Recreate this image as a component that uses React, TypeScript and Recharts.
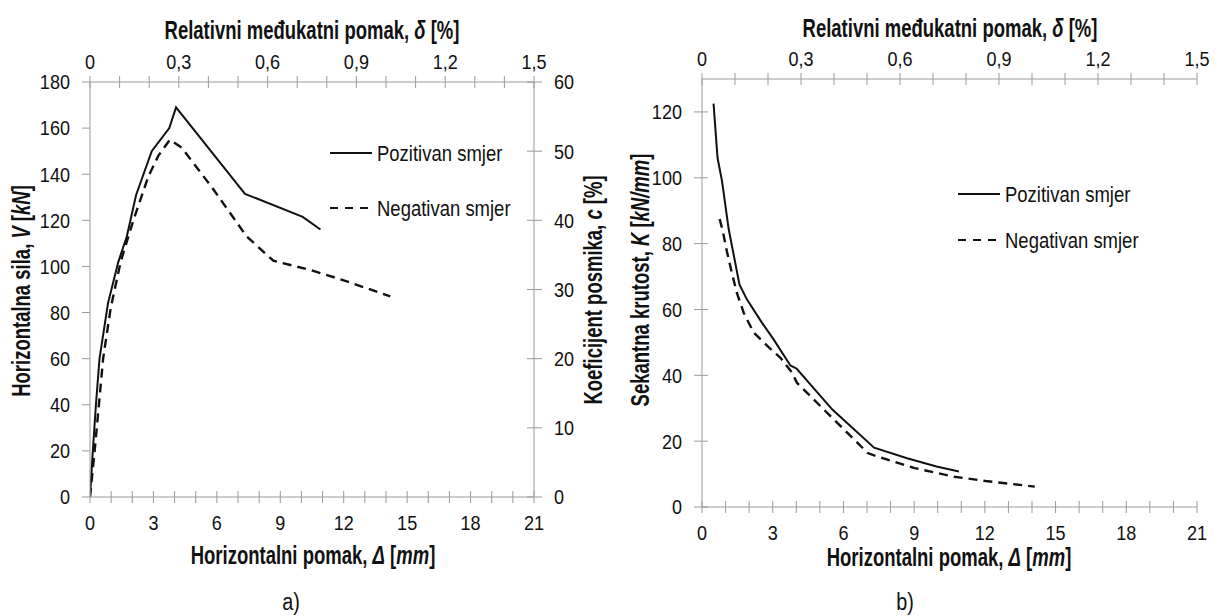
import { Legend, Line, LineChart, XAxis, YAxis } from 'recharts'

const FONT = "'Liberation Sans Narrow', 'Arial Narrow', 'Liberation Sans', Arial, sans-serif"
const AXIS = '#9a9a9a'
const INK = '#111111'

// a) horizontalna sila V [kN] prema pomaku Δ [mm]
const posDispA = [0, 0.12, 0.28, 0.45, 0.85, 1.34, 1.74, 2.18, 2.92, 3.75, 4.07, 7.33, 10.06, 10.9]
const posForceA = [0, 18, 40, 60, 84, 102, 113, 131, 150, 160, 169, 131.5, 121.5, 116]
const negDispA = [0, 0.22, 0.42, 0.62, 0.98, 1.45, 2.05, 2.76, 3.23, 3.78, 4.34, 5.83, 7.41, 8.67, 10.4, 12.0, 14.2]
const negForceA = [0, 20, 40, 60, 82, 102, 120, 139, 148, 155, 151.5, 133.5, 113, 102.5, 98.5, 94, 87]

// b) sekantna krutost K [kN/mm] prema pomaku Δ [mm]
const posDispB = [0.49, 0.66, 0.85, 1.13, 1.59, 1.91, 2.54, 3.03, 3.75, 4.02, 5.53, 7.3, 8.7, 9.95, 10.9]
const posStiffB = [122.5, 106, 99, 84.5, 67.5, 63, 56, 51, 43, 42, 29.6, 18, 14.8, 12.3, 10.8]
const negDispB = [0.75, 0.89, 1.06, 1.27, 1.48, 1.77, 2.19, 2.76, 3.33, 3.82, 4.03, 5.03, 6.03, 7.03, 7.37, 9.03, 10.7, 12.03, 14.12]
const negStiffB = [87.5, 83.5, 77.5, 71, 65, 59, 53, 49, 45.3, 40.8, 37.7, 30.6, 23.5, 16.4, 15.5, 11.8, 9.2, 7.9, 6.2]

const seriesNames = ['Pozitivan smjer', 'Negativan smjer']

// 1,5 % relativnog pomaka = 21 mm (mm po %)
const MM_PER_PCT = 14

const dispTicks = [0, 1, 2, 3, 4, 5, 6, 7, 8, 9, 10, 11, 12, 13, 14, 15, 16, 17, 18, 19, 20, 21]
const driftTicks = [0, 0.1, 0.2, 0.3, 0.4, 0.5, 0.6, 0.7, 0.8, 0.9, 1.0, 1.1, 1.2, 1.3, 1.4, 1.5]
const forceTicks = [0, 20, 40, 60, 80, 100, 120, 140, 160, 180]
const coefTicks = [0, 10, 20, 30, 40, 50, 60]
const stiffTicks = [0, 20, 40, 60, 80, 100, 120]

const zip = (xs: number[], ys: number[]) => xs.map((d, i) => ({ d, v: ys[i] }))

// narrow, tall lettering like the original (font squeezed horizontally)
function T({ x, y, rot = 0, anchor = 'middle', bold = false, size = 21, sx = 0.86, children }: any) {
  return (
    <text transform={`translate(${x} ${y}) rotate(${rot}) scale(${sx} 1)`} x={0} y={0} dy="0.35em"
      textAnchor={anchor} fontFamily={FONT} fontSize={size} fill={INK} fontWeight={bold ? 'bold' : 'normal'}>
      {children}
    </text>
  )
}

function Title(props: any) {
  return <T bold size={25} sx={0.74} {...props} />
}

function BottomTick({ x, y, payload }: any) {
  const v = payload.value
  return (
    <g>
      <line x1={x} x2={x} y1={y - 6} y2={y + 6} stroke={AXIS} />
      {v % 3 === 0 && <T x={x} y={y + 26}>{v}</T>}
    </g>
  )
}

function TopTick({ x, y, payload }: any) {
  const p = payload.value / MM_PER_PCT
  const step = Math.round(p * 10)
  return (
    <g>
      <line x1={x} x2={x} y1={y - 6} y2={y + 6} stroke={AXIS} />
      {step % 3 === 0 && (
        <T x={x} y={y - 20}>{step === 0 ? '0' : p.toFixed(1).replace('.', ',')}</T>
      )}
    </g>
  )
}

const yTick = (side: 'left' | 'right', inner: number) => (props: any) => {
  const { x, y, payload } = props
  const s = side === 'left' ? -1 : 1
  return (
    <g>
      <line x1={x - s * inner} x2={x + s * 8} y1={y} y2={y} stroke={AXIS} />
      <T x={x + s * 20} y={y} anchor={side === 'left' ? 'end' : 'start'}>{payload.value}</T>
    </g>
  )
}

const legendContent = (gap: number) => ({ payload }: any) => (
  <svg width={260} height={gap + 30} style={{ overflow: 'visible' }}>
    {(payload || []).map((e: any, i: number) => (
      <g key={e.value}>
        <line x1={0} x2={42} y1={15 + i * gap} y2={15 + i * gap} stroke={INK} strokeWidth={2}
          strokeDasharray={e.payload?.strokeDasharray ? '8 7' : undefined} />
        <T x={47} y={15 + i * gap} anchor="start" size={21.5}>{e.value}</T>
      </g>
    ))}
  </svg>
)

const axisLine = { stroke: AXIS, strokeWidth: 1 }
const plain = { axisLine, tickLine: false, tickSize: 0, tickMargin: 0, interval: 0 as const, allowDataOverflow: true }

export default function App() {
  return (
    <div style={{ position: 'absolute', left: 0, top: 0, width: 1217, height: 616, background: '#fff' }}>
      <div style={{ position: 'absolute', left: 0, top: 0 }}>
        <LineChart width={600} height={616} margin={{ top: 0, right: 0, bottom: 0, left: 0 }}>
          <XAxis xAxisId="d" type="number" dataKey="d" domain={[0, 21]} ticks={dispTicks} height={119}
            tick={BottomTick} {...plain} />
          <XAxis xAxisId="drift" orientation="top" type="number" dataKey="d" domain={[0, 21]}
            ticks={driftTicks.map((p) => p * MM_PER_PCT)} height={82} tick={TopTick} {...plain} />
          <YAxis yAxisId="V" type="number" domain={[0, 180]} ticks={forceTicks} width={90}
            tick={yTick('left', 0)} {...plain} />
          <YAxis yAxisId="c" orientation="right" type="number" domain={[0, 60]} ticks={coefTicks} width={66}
            tick={yTick('right', 7)} {...plain} />
          <Line xAxisId="d" yAxisId="V" data={zip(posDispA, posForceA)} dataKey="v" name={seriesNames[0]}
            stroke={INK} strokeWidth={2} dot={false} isAnimationActive={false} />
          <Line xAxisId="drift" yAxisId="V" data={zip(negDispA, negForceA)} dataKey="v" name={seriesNames[1]}
            stroke={INK} strokeWidth={2.4} strokeDasharray="9 6" dot={false} isAnimationActive={false} />
          <Legend layout="vertical" align="center" verticalAlign="middle" itemSorter={null as any}
            wrapperStyle={{ left: 330, top: 138, width: 260, height: 90 }} content={legendContent(55)} />
        </LineChart>
      </div>
      <div style={{ position: 'absolute', left: 610, top: 0 }}>
        <LineChart width={607} height={616} margin={{ top: 0, right: 20, bottom: 0, left: 0 }}>
          <XAxis xAxisId="d" type="number" dataKey="d" domain={[0, 21]} ticks={dispTicks} height={109}
            tick={BottomTick} {...plain} />
          <XAxis xAxisId="drift" orientation="top" type="number" dataKey="d" domain={[0, 21]}
            ticks={driftTicks.map((p) => p * MM_PER_PCT)} height={79} tick={TopTick} {...plain} />
          <YAxis yAxisId="K" type="number" domain={[0, 130]} ticks={stiffTicks} width={92}
            tick={yTick('left', 6)} {...plain} />
          <Line xAxisId="d" yAxisId="K" data={zip(posDispB, posStiffB)} dataKey="v" name={seriesNames[0]}
            stroke={INK} strokeWidth={2} dot={false} isAnimationActive={false} />
          <Line xAxisId="drift" yAxisId="K" data={zip(negDispB, negStiffB)} dataKey="v" name={seriesNames[1]}
            stroke={INK} strokeWidth={2.4} strokeDasharray="9 6" dot={false} isAnimationActive={false} />
          <Legend layout="vertical" align="center" verticalAlign="middle" itemSorter={null as any}
            wrapperStyle={{ left: 348, top: 179, width: 260, height: 80 }} content={legendContent(46)} />
        </LineChart>
      </div>
      <svg width={1217} height={616} style={{ position: 'absolute', left: 0, top: 0, pointerEvents: 'none' }}>
        <Title x={312} y={30}>Relativni međukatni pomak, <tspan fontStyle="italic">δ</tspan> [%]</Title>
        <Title x={950} y={28}>Relativni međukatni pomak, <tspan fontStyle="italic">δ</tspan> [%]</Title>
        <Title x={313} y={555}>
          Horizontalni pomak, <tspan fontStyle="italic">Δ</tspan> [<tspan fontStyle="italic">mm</tspan>]
        </Title>
        <Title x={949} y={557}>
          Horizontalni pomak, <tspan fontStyle="italic">Δ</tspan> [<tspan fontStyle="italic">mm</tspan>]
        </Title>
        <Title x={21} y={291} rot={-90}>
          Horizontalna sila, <tspan fontStyle="italic">V</tspan> [<tspan fontStyle="italic">kN</tspan>]
        </Title>
        <Title x={593} y={290} rot={-90}>
          Koeficijent posmika, <tspan fontStyle="italic">c</tspan> [%]
        </Title>
        <Title x={640} y={280} rot={-90}>
          Sekantna krutost, <tspan fontStyle="italic">K</tspan> [<tspan fontStyle="italic">kN/mm</tspan>]
        </Title>
        <T x={291} y={602} size={23}>a)</T>
        <T x={905} y={602} size={23}>b)</T>
      </svg>
    </div>
  )
}
